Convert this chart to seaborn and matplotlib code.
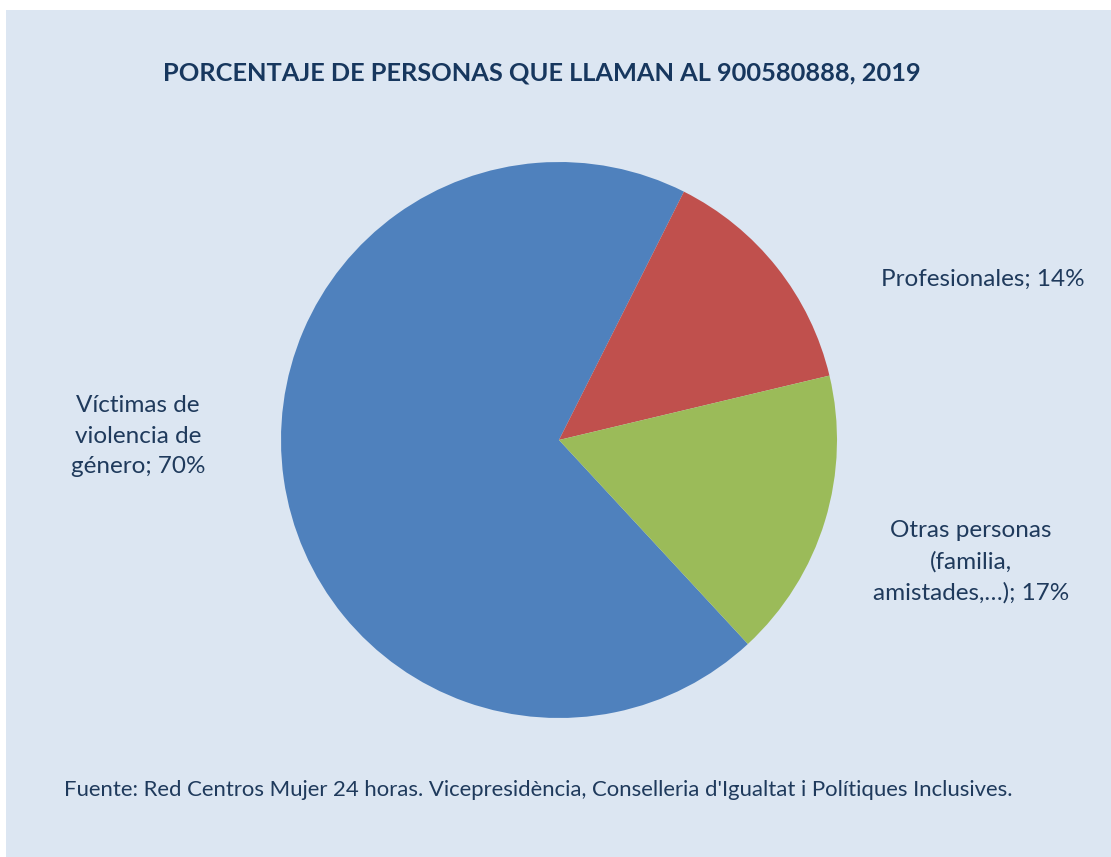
import matplotlib
matplotlib.use("Agg")
import matplotlib.pyplot as plt
import seaborn as sns
from matplotlib.patches import Rectangle

# data
categories = ["Víctimas de\nviolencia de\ngénero", "Profesionales", "Otras personas\n(familia,\namistades,…)"]
values = [70, 14, 17]
colors = ["#4F81BD", "#C0504D", "#9BBB59"]
title = "PORCENTAJE DE PERSONAS QUE LLAMAN AL 900580888, 2019"
source = "Fuente: Red Centros Mujer 24 horas. Vicepresidència, Conselleria d'Igualtat i Polítiques Inclusives."

sns.set_theme(style="white")
plt.rcParams["font.family"] = ["Lato", "DejaVu Sans"]

W, H = 1111, 857
fig = plt.figure(figsize=(W / 100, H / 100), dpi=100, facecolor="white")

# light blue chart area with a small white margin at top/left
fig.patches.append(Rectangle((6 / W, 0), 1 - 6 / W, 1 - 10 / H,
                             transform=fig.transFigure, facecolor="#DCE6F2",
                             edgecolor="none", zorder=-10))

# pie axes: centre (559, 440) px, radius 278 px
cx, cy, r = 559, 440, 278
ax = fig.add_axes([(cx - r) / W, (H - cy - r) / H, 2 * r / W, 2 * r / H])
ax.set_zorder(1)
ax.pie(values, colors=colors, startangle=-47.2, counterclock=False,
       wedgeprops=dict(linewidth=0), radius=1)
ax.set_xlim(-1, 1)
ax.set_ylim(-1, 1)
ax.set_aspect("equal")
ax.axis("off")
ax.patch.set_alpha(0)

txt_color = "#1F3A5C"
fig.text(542 / W, 1 - 73 / H, title, ha="center", va="center",
         fontsize=18.3, fontweight="bold", color="#17375E")

label_pos = [(138, 436), (983, 279), (971, 562)]
for cat, val, (lx, ly) in zip(categories, values, label_pos):
    fig.text(lx / W, 1 - ly / H, f"{cat}; {val}%", ha="center", va="center",
             multialignment="center", fontsize=17.5, color=txt_color,
             linespacing=1.55)

fig.text(64 / W, 1 - 790 / H, source, ha="left", va="center",
         fontsize=15.9, color=txt_color)

fig.savefig("out.png", dpi=100, facecolor=fig.get_facecolor())
